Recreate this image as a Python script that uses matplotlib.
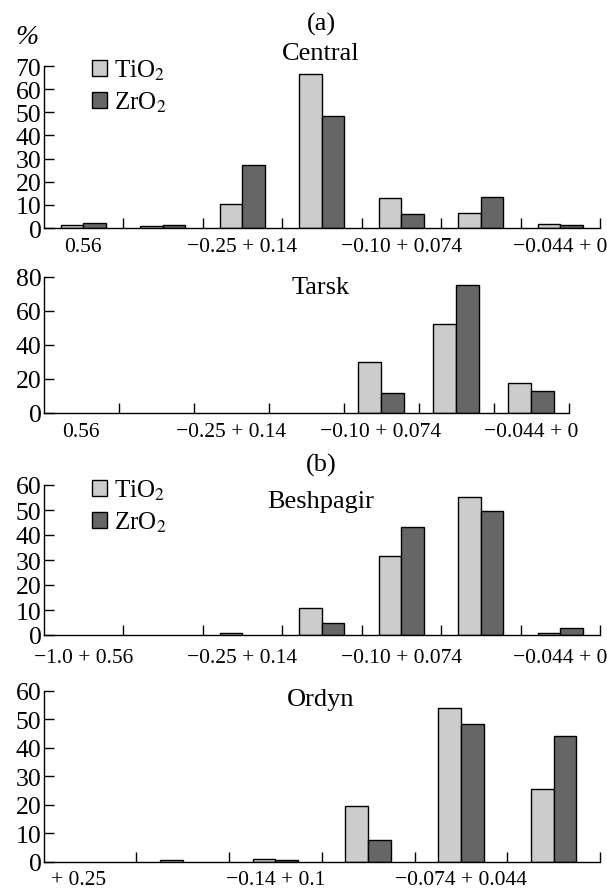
import matplotlib
matplotlib.use("Agg")
import matplotlib.pyplot as plt
from matplotlib.transforms import ScaledTranslation
import numpy as np

plt.rcParams['font.family'] = ['Liberation Serif', 'DejaVu Serif']
plt.rcParams['mathtext.fontset'] = 'stix'

# fraction content, % (TiO2 / ZrO2) by size class
central_tio2 = [1.4, 0.7, 10.2, 66.7, 13.1, 6.6, 1.6]
central_zro2 = [2.0, 1.1, 27.3, 48.5, 6.2, 13.4, 1.1]
central_labels = ["0.56", "−0.25 + 0.14", "−0.10 + 0.074", "−0.044 + 0"]

tarsk_tio2 = [0, 0, 0, 0, 29.7, 52.2, 17.8]
tarsk_zro2 = [0, 0, 0, 0, 11.9, 75.1, 12.7]
tarsk_labels = ["0.56", "−0.25 + 0.14", "−0.10 + 0.074", "−0.044 + 0"]

beshpagir_tio2 = [0, 0, 0.8, 10.9, 31.7, 55.3, 0.7]
beshpagir_zro2 = [0, 0, 0, 4.9, 43.2, 49.5, 2.8]
beshpagir_labels = ["−1.0 + 0.56", "−0.25 + 0.14", "−0.10 + 0.074", "−0.044 + 0"]

ordyn_tio2 = [0, 0.6, 0.9, 19.6, 54.1, 25.6]
ordyn_zro2 = [0, 0, 0.7, 7.8, 48.2, 44.2]
ordyn_labels = ["+ 0.25", "−0.14 + 0.1", "−0.074 + 0.044"]

light = '#cccccc'
dark = '#666666'

W, H = 607.0, 895.0
fig = plt.figure(figsize=(W / 100, H / 100), dpi=100)


def panel(x0, x1, ybot, ytop, tio2, zro2, ymax, ystep, labels, bar_w, pad=6.5):
    ax = fig.add_axes([x0 / W, 1 - ybot / H, (x1 - x0) / W, (ybot - ytop) / H])
    n = len(tio2)
    pos = np.arange(n) + 0.5
    tio2 = np.asarray(tio2, float)
    zro2 = np.asarray(zro2, float)
    # empty classes get no bar at all (a zero-height bar still strokes its edge)
    t = tio2 > 0
    z = zro2 > 0
    ax.bar(pos[t] - bar_w / 2, tio2[t], bar_w, color=light, edgecolor='black',
           linewidth=1.0, label='TiO$_2$')
    ax.bar(pos[z] + bar_w / 2, zro2[z], bar_w, color=dark, edgecolor='black',
           linewidth=1.0, label='ZrO$_2$')
    ax.set_xlim(0, n)
    ax.set_ylim(0, ymax)
    ax.set_yticks(np.arange(0, ymax + 1, ystep))
    ax.set_xticks(np.arange(1, n + 1))
    ax.set_xticklabels([])
    ax.set_xticks(pos[::2], minor=True)
    ax.set_xticklabels(labels, minor=True)
    ax.tick_params(axis='x', which='major', direction='in', length=7, width=1)
    ax.tick_params(axis='x', which='minor', length=0, pad=pad, labelsize=15.5)
    ax.tick_params(axis='y', direction='in', length=7, width=1, pad=1.5,
                   labelsize=18.5)
    for s in ['top', 'right']:
        ax.spines[s].set_visible(False)
    for s in ['left', 'bottom']:
        ax.spines[s].set_linewidth(1.0)
    return ax


ax1 = panel(43.5, 600, 229, 67, central_tio2, central_zro2, 70, 10,
            central_labels, 0.285)
ax2 = panel(43.5, 568.5, 414, 277.7, tarsk_tio2, tarsk_zro2, 80, 20,
            tarsk_labels, 0.30)
ax3 = panel(43.5, 600, 636, 486, beshpagir_tio2, beshpagir_zro2, 60, 10,
            beshpagir_labels, 0.285, pad=9.5)
ax4 = panel(43.5, 600, 863, 691.7, ordyn_tio2, ordyn_zro2, 60, 10,
            ordyn_labels, 0.245, pad=6)

# first Ordyn label sits a little left of its class centre
lab = ax4.get_xticklabels(minor=True)[0]
lab.set_transform(lab.get_transform() +
                  ScaledTranslation(-0.11, 0, fig.dpi_scale_trans))

for ax, top in [(ax1, 59), (ax3, 479)]:
    ax.legend(loc='upper left', bbox_to_anchor=(92 / W, 1 - top / H),
              bbox_transform=fig.transFigure, frameon=False, fontsize=18,
              handlelength=0.6, handleheight=0.6, handletextpad=0.3,
              labelspacing=0.3, borderpad=0, borderaxespad=0)

for txt, yb in [("(a)", 31), ("Central", 59.5), ("Tarsk", 293.5),
                ("(b)", 472), ("Beshpagir", 508), ("Ordyn", 706)]:
    fig.text(321 / W, 1 - yb / H, txt, ha='center', va='baseline', fontsize=19)

fig.text(27 / W, 1 - 37 / H, "%", ha='center', va='center', fontsize=20,
         style='italic')

fig.savefig("out.png", dpi=100)
